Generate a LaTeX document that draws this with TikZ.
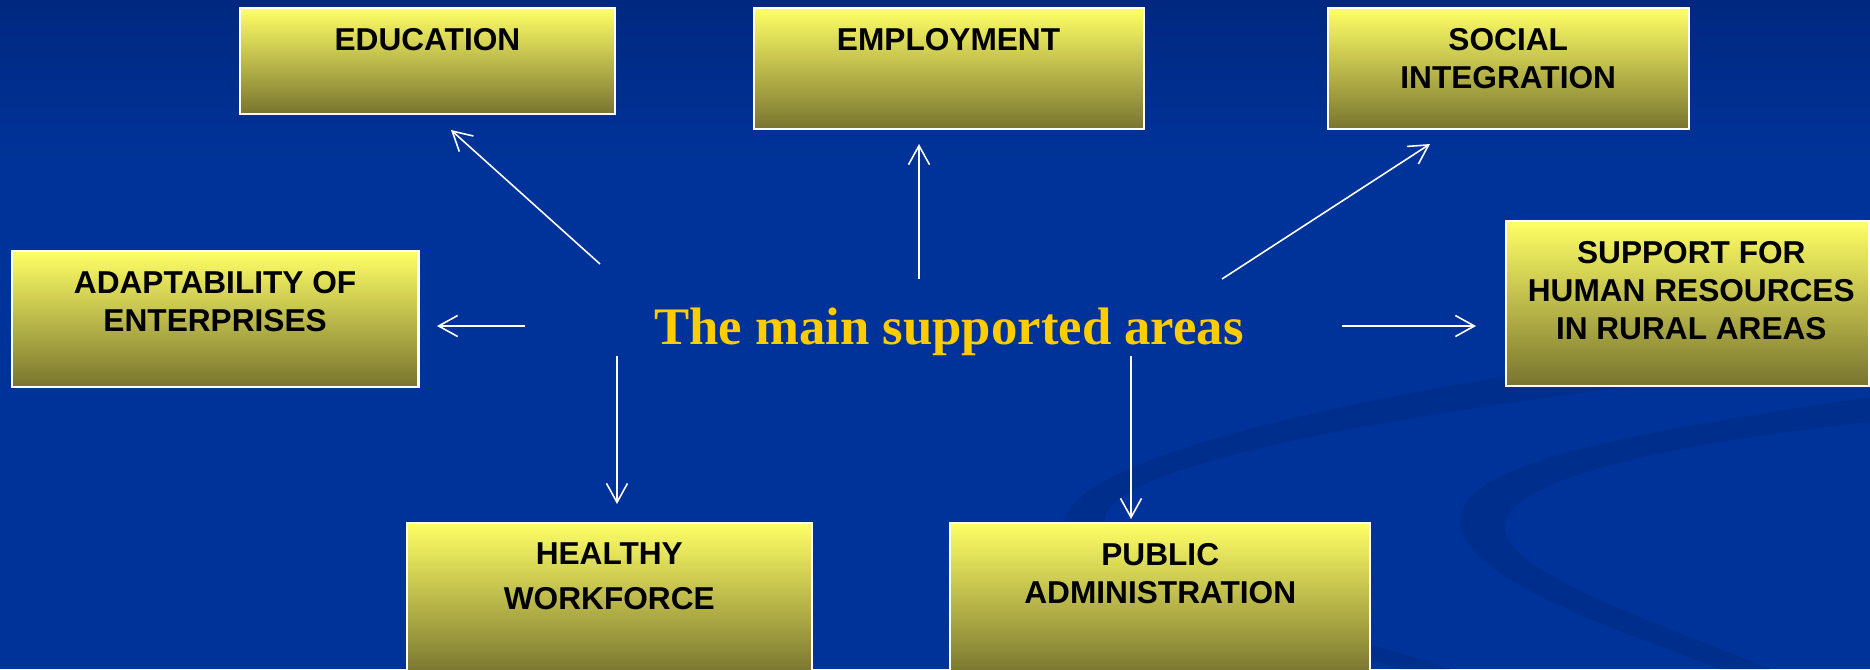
\documentclass[tikz,border=0pt]{standalone}
\usepackage{fontspec}
\setmainfont{Liberation Serif}
\setsansfont{Liberation Sans}
\usetikzlibrary{arrows.meta, positioning}
\definecolor{slide_blue}{RGB}{0, 51, 153}
\definecolor{slide_top}{RGB}{0, 40, 128}
\definecolor{slide_swoosh}{RGB}{0, 46, 141}
\definecolor{box_top}{RGB}{255, 255, 102}
\definecolor{box_mid}{RGB}{198, 196, 82}
\definecolor{box_bot}{RGB}{120, 116, 48}
\definecolor{title_gold}{RGB}{255, 204, 0}

\begin{document}
\begin{tikzpicture}[
    areabox/.style={draw=white, line width=0.6pt, top color=box_top,
      middle color=box_mid, bottom color=box_bot, anchor=north west, inner sep=0pt},
    arealabel/.style={font=\sffamily\bfseries\fontsize{9}{10.8}\selectfont,
      align=center, text=black},
    arr/.style={draw=white, line width=0.45pt,
      -{Straight Barb[length=1.9mm, width=2.1mm]}}
  ]
        % Fond
        \useasboundingbox (0,0) rectangle (18.7,-6.69);
        \clip (0,0) rectangle (18.7,-6.69);
        \fill[slide_blue] (0,0) rectangle (18.7,-6.69);
        \shade[top color=slide_top, bottom color=slide_blue] (0,0) rectangle (18.7,-1.6);

        % Bandes décoratives
        \fill[slide_swoosh] (18.7,-3.3) .. controls (14.5,-3.7) and (10.6,-4.5) .. (10.65,-5.25)
          .. controls (10.7,-5.9) and (13.0,-6.35) .. (14.0,-6.69) -- (14.5,-6.69)
          .. controls (13.2,-6.25) and (11.05,-5.8) .. (11.05,-5.2)
          .. controls (11.05,-4.6) and (14.6,-4.0) .. (18.7,-3.6) -- cycle;
        \fill[slide_swoosh] (18.7,-3.97) .. controls (16.5,-4.3) and (14.6,-4.6) .. (14.6,-5.2)
          .. controls (14.6,-5.8) and (16.2,-6.3) .. (17.2,-6.69) -- (17.7,-6.69)
          .. controls (16.5,-6.2) and (15.0,-5.7) .. (15.05,-5.25)
          .. controls (15.1,-4.8) and (16.6,-4.45) .. (18.7,-4.22) -- cycle;

        % Domaines
        \foreach \n/\x/\y/\w/\h/\dx/\txt in {
            edu/2.385/-0.073/3.757/1.06/0/{EDUCATION},
            emp/7.525/-0.073/3.90/1.21/0/{EMPLOYMENT},
            soc/13.268/-0.073/3.607/1.21/0/{SOCIAL\\INTEGRATION},
            ada/0.107/-2.50/4.067/1.357/0/{ADAPTABILITY OF\\ENTERPRISES},
            sup/15.045/-2.20/3.635/1.65/0.04/{SUPPORT FOR\\HUMAN RESOURCES\\IN RURAL AREAS},
            hea/4.055/-5.217/4.055/1.52/0/{HEALTHY\\[0.07cm]WORKFORCE},
            pub/9.493/-5.217/4.198/1.52/0/{PUBLIC\\ADMINISTRATION}} {
          \node[areabox, minimum width=\w cm, minimum height=\h cm] (\n) at (\x,\y) {};
          \node[arealabel, below=0.09cm of \n.north, xshift=\dx cm] (\n-txt) {\txt};
        }

        % Titre central
        \node[font=\bfseries\fontsize{15}{18}\selectfont, text=title_gold, anchor=base]
          (main) at (9.49,-3.44) {The main supported areas};

        % Flèches
        \foreach \n/\sx/\sy/\tx/\ty in {
            edu/6.00/-2.64/4.51/-1.30,
            emp/9.19/-2.79/9.19/-1.44,
            soc/12.22/-2.79/14.30/-1.44,
            ada/5.25/-3.26/4.37/-3.26,
            sup/13.42/-3.26/14.76/-3.26,
            hea/6.17/-3.56/6.17/-5.04,
            pub/11.31/-3.56/11.31/-5.19} {
          \coordinate (\n-from) at (\sx,\sy);
          \coordinate (\n-to) at (\tx,\ty);
          \draw[arr] (\n-from) -- (\n-to);
        }
\end{tikzpicture}
\end{document}
